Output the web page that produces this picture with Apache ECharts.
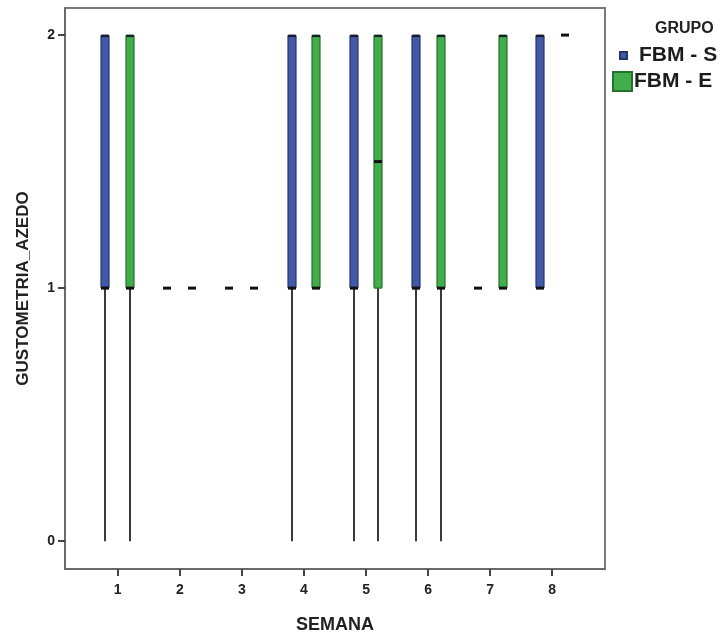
<!DOCTYPE html>
<html>
<head>
<meta charset="utf-8">
<script src="https://cdn.jsdelivr.net/npm/echarts@6/dist/echarts.min.js"></script>
<style>html,body{margin:0;padding:0;background:#fff}#c{width:726px;height:636px}</style>
</head>
<body>
<div id="c"></div>
<script>
// Data (boxplot five-number summaries per week)
var semanas = [1, 2, 3, 4, 5, 6, 7, 8];
var groups = ['FBM - S', 'FBM - E'];
var yTicks = [0, 1, 2];

var S_min = [0, 1, 1, 0, 0, 0, 1, 1];
var S_q1  = [1, 1, 1, 1, 1, 1, 1, 1];
var S_med = [1, 1, 1, 1, 1, 1, 1, 1];
var S_q3  = [2, 1, 1, 2, 2, 2, 1, 2];
var S_max = [2, 1, 1, 2, 2, 2, 1, 2];

var E_min = [0, 1, 1, 1, 0, 0, 1, 2];
var E_q1  = [1, 1, 1, 1, 1, 1, 1, 2];
var E_med = [1, 1, 1, 1, 1.5, 1, 1, 2];
var E_q3  = [2, 1, 1, 2, 2, 2, 2, 2];
var E_max = [2, 1, 1, 2, 2, 2, 2, 2];

var colors = { 'FBM - S': '#4159a6', 'FBM - E': '#41ad4b' };
var borders = { 'FBM - S': '#26356e', 'FBM - E': '#23722b' };
var offsets = { 'FBM - S': -0.2, 'FBM - E': 0.2 };

function build(mins, q1, med, q3, maxs) {
  return semanas.map(function (s, i) { return [s, mins[i], q1[i], med[i], q3[i], maxs[i]]; });
}

function makeRender(name) {
  return function (params, api) {
    var x = api.value(0) + offsets[name];
    var mn = api.value(1), a = api.value(2), md = api.value(3), b = api.value(4), mx = api.value(5);
    var pMin = api.coord([x, mn]), pQ1 = api.coord([x, a]), pMed = api.coord([x, md]),
        pQ3 = api.coord([x, b]), pMax = api.coord([x, mx]);
    var cx = Math.round(pQ1[0]);
    var w = 8;
    var children = [];
    if (mn < a) {
      children.push({ type: 'line', shape: { x1: cx, y1: pMin[1], x2: cx, y2: pQ1[1] },
        style: { stroke: '#3a3a3a', lineWidth: 2 } });
    }
    if (mx > b) {
      children.push({ type: 'line', shape: { x1: cx, y1: pMax[1], x2: cx, y2: pQ3[1] },
        style: { stroke: '#3a3a3a', lineWidth: 2 } });
    }
    if (b > a) {
      children.push({ type: 'rect', shape: { x: cx - w / 2, y: pQ3[1], width: w, height: pQ1[1] - pQ3[1], r: 1 },
        style: { fill: colors[name], stroke: borders[name], lineWidth: 1.2 } });
      children.push({ type: 'line', shape: { x1: cx - w / 2, y1: pQ3[1] + 1, x2: cx + w / 2, y2: pQ3[1] + 1 },
        style: { stroke: '#1b1b2a', lineWidth: 2 } });
    }
    children.push({ type: 'line', shape: { x1: cx - w / 2, y1: pMed[1], x2: cx + w / 2, y2: pMed[1] },
      style: { stroke: '#111', lineWidth: 3 } });
    return { type: 'group', children: children };
  };
}

var chart = echarts.init(document.getElementById('c'), null, { renderer: 'canvas' });
chart.setOption({
  backgroundColor: '#fff',
  animation: false,
  title: {
    text: 'GRUPO', left: 655, top: 21, padding: 0,
    textStyle: { fontFamily: 'Liberation Sans, Arial', fontWeight: 'bold', fontSize: 16, color: '#222' }
  },
  legend: [{
    data: ['FBM - S'], left: 619, top: 45, orient: 'vertical', padding: 0,
    icon: 'rect', itemWidth: 7, itemHeight: 7, itemGap: 0,
    textStyle: { fontFamily: 'Liberation Sans, Arial', fontWeight: 'bold', fontSize: 21, color: '#1c1c1c', padding: [0, 0, 0, 7] }
  }, {
    data: ['FBM - E'], left: 612, top: 71, orient: 'vertical', padding: 0,
    icon: 'rect', itemWidth: 19, itemHeight: 19, itemGap: 0,
    textStyle: { fontFamily: 'Liberation Sans, Arial', fontWeight: 'bold', fontSize: 21, color: '#1c1c1c', padding: [0, 0, 0, -3] }
  }],
  grid: { left: 65, right: 121, top: 8, bottom: 67, outerBoundsMode: 'none', containLabel: false,
    show: true, borderColor: '#7a7a7a', borderWidth: 2 },
  xAxis: {
    type: 'value', min: 0.15, max: 8.85,
    name: 'SEMANA', nameLocation: 'middle', nameGap: 47,
    nameTextStyle: { fontFamily: 'Liberation Sans, Arial', fontWeight: 'bold', fontSize: 18, color: '#222' },
    axisLine: { show: true, onZero: false, lineStyle: { color: '#6a6a6a', width: 2 } },
    axisTick: { show: true, customValues: semanas, length: 7, lineStyle: { color: '#444', width: 2 } },
    axisLabel: { customValues: semanas, margin: 14, fontFamily: 'Liberation Sans, Arial', fontWeight: 'bold', fontSize: 14, color: '#222' },
    splitLine: { show: false }
  },
  yAxis: {
    type: 'value', min: -0.11, max: 2.107,
    name: 'GUSTOMETRIA_AZEDO', nameLocation: 'middle', nameGap: 33, nameRotate: 90,
    nameTextStyle: { fontFamily: 'Liberation Sans, Arial', fontWeight: 'bold', fontSize: 17, color: '#222' },
    axisLine: { show: true, onZero: false, lineStyle: { color: '#6a6a6a', width: 2 } },
    axisTick: { show: true, customValues: yTicks, length: 7, lineStyle: { color: '#444', width: 2 } },
    axisLabel: { customValues: yTicks, margin: 10, fontFamily: 'Liberation Sans, Arial', fontWeight: 'bold', fontSize: 14, color: '#222' },
    splitLine: { show: false }
  },
  series: [{
    name: 'FBM - S', type: 'custom', renderItem: makeRender('FBM - S'),
    itemStyle: { color: colors['FBM - S'], borderColor: borders['FBM - S'], borderWidth: 1 },
    encode: { x: 0, y: [1, 2, 3, 4, 5] },
    data: build(S_min, S_q1, S_med, S_q3, S_max)
  }, {
    name: 'FBM - E', type: 'custom', renderItem: makeRender('FBM - E'),
    itemStyle: { color: colors['FBM - E'], borderColor: borders['FBM - E'], borderWidth: 1 },
    encode: { x: 0, y: [1, 2, 3, 4, 5] },
    data: build(E_min, E_q1, E_med, E_q3, E_max)
  }]
});
</script>
</body>
</html>
